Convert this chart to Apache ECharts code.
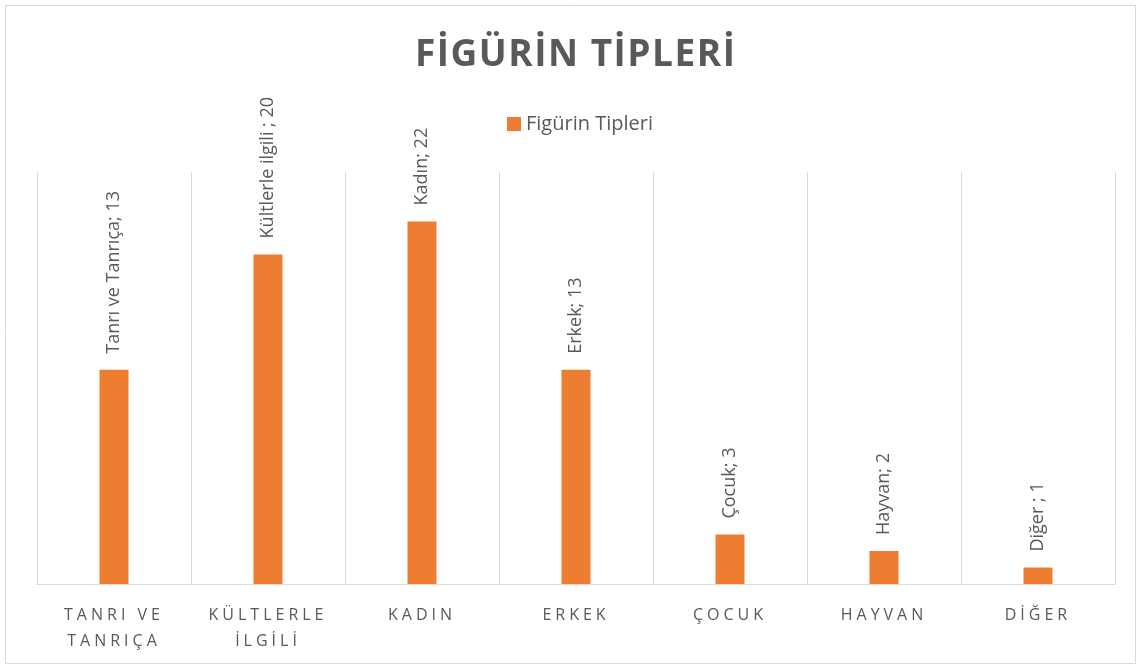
<!DOCTYPE html>
<html><head><meta charset="utf-8">
<script src="https://cdn.jsdelivr.net/npm/echarts@6/dist/echarts.min.js"></script>
<style>html,body{margin:0;padding:0;background:#fff}#c{width:1141px;height:669px}</style>
</head><body><div id="c"></div>
<script>
const titleText = 'FİGÜRİN TİPLERİ';
const seriesName = 'Figürin Tipleri';
const categories = ['TANRI VE\nTANRIÇA', 'KÜLTLERLE\nİLGİLİ', 'KADIN', 'ERKEK', 'ÇOCUK', 'HAYVAN', 'DİĞER'];
const labelNames = ['Tanrı ve Tanrıça', 'Kültlerle ilgili ', 'Kadın', 'Erkek', 'Çocuk', 'Hayvan', 'Diğer '];
const values = [13, 20, 22, 13, 3, 2, 1];

// letter spacing for spaced text (title and category labels), chosen by font-family marker
(function () {
  const proto = CanvasRenderingContext2D.prototype;
  const orig = proto.fillText;
  proto.fillText = function (t, x, y, m) {
    const f = this.font || '';
    let ls = '0px';
    if (f.indexOf('Lato') >= 0) ls = '4px';
    else if (f.indexOf('Roboto') >= 0) ls = '1.5px';
    if ('letterSpacing' in this) this.letterSpacing = ls;
    return m === undefined ? orig.call(this, t, x, y) : orig.call(this, t, x, y, m);
  };
})();

const chart = echarts.init(document.getElementById('c'));
chart.setOption({
  animation: false,
  title: {
    text: titleText, left: 410, top: 32,
    textStyle: { fontFamily: '"Open Sans", Roboto', fontWeight: 'bold', fontSize: 37, color: '#595959' }
  },
  legend: {
    top: 109, left: 502, itemWidth: 14, itemHeight: 14, icon: 'rect',
    textStyle: { fontFamily: 'Open Sans', fontSize: 20, color: '#595959' },
    data: [seriesName]
  },
  graphic: [{
    type: 'rect', shape: { x: 5.5, y: 5.5, width: 1130, height: 658 },
    style: { fill: 'none', stroke: '#d9d9d9', lineWidth: 1 }, silent: true
  }],
  grid: { left: 37, right: 26, top: 172, bottom: 85 },
  xAxis: {
    type: 'category', data: categories,
    axisLine: { lineStyle: { color: '#d9d9d9', width: 1 } },
    axisTick: { show: false },
    splitLine: { show: true, lineStyle: { color: '#d9d9d9', width: 1 } },
    axisLabel: { interval: 0, margin: 18, lineHeight: 26, fontFamily: '"Open Sans", Lato', fontSize: 16, color: '#595959' }
  },
  yAxis: { type: 'value', min: 0, max: 25, show: false, splitLine: { show: false } },
  series: [{
    name: seriesName, type: 'bar', data: values, barWidth: 29,
    itemStyle: { color: '#ed7d31' },
    label: {
      show: true, position: 'top', rotate: 90, align: 'left', verticalAlign: 'middle', distance: 16,
      fontFamily: 'Open Sans', fontSize: 18, color: '#595959',
      formatter: p => labelNames[p.dataIndex] + '; ' + p.value
    }
  }]
});
</script></body></html>
